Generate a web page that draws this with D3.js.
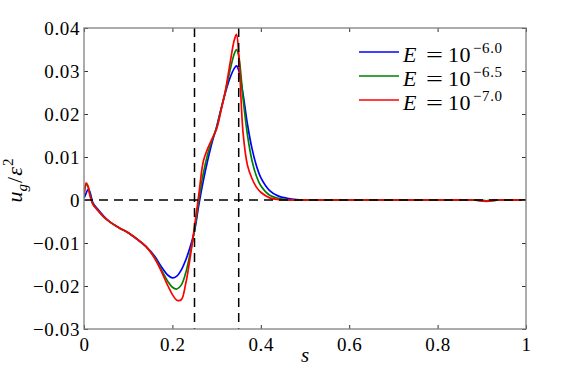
<!DOCTYPE html>
<html>
<head>
<meta charset="utf-8">
<script src="https://cdn.jsdelivr.net/npm/d3@7"></script>
<style>
  body { margin: 0; background: #fff; }
</style>
</head>
<body>
<div id="chart"></div>
<script>
// sample positions along s (shared by all three runs)
const sValues = [0, 0.005, 0.009, 0.013, 0.02, 0.03, 0.045, 0.06, 0.08, 0.1, 0.12, 0.14, 0.16, 0.175, 0.19, 0.2, 0.21, 0.22, 0.23, 0.24,
                 0.25, 0.26, 0.27, 0.28, 0.29, 0.3, 0.31, 0.32, 0.33, 0.34, 0.345, 0.35, 0.36, 0.37, 0.38, 0.39, 0.4, 0.42, 0.44, 0.46,
                 0.48, 0.5, 0.6, 0.7, 0.8, 0.88, 0.91, 0.94, 1.0];

const uBlue  = [0.0004, 0.0016, 0.0024, 0.0020, -0.0006, -0.0020, -0.0038, -0.0052, -0.0065, -0.0076, -0.0091, -0.0108, -0.0131, -0.0155, -0.0175, -0.0181, -0.0177, -0.0163, -0.0140, -0.0110,
                -0.0072, -0.0010, 0.0045, 0.0093, 0.0135, 0.0170, 0.0212, 0.0250, 0.0283, 0.0306, 0.0312, 0.0302, 0.0245, 0.0175, 0.0120, 0.0080, 0.0052, 0.0022, 0.0009, 0.0004,
                0.0001, 0, 0, 0, 0, 0, -0.0002, 0, 0];
const uGreen = [0.0008, 0.0036, 0.0031, 0.0015, -0.0009, -0.0022, -0.0040, -0.0052, -0.0065, -0.0076, -0.0091, -0.0108, -0.0134, -0.0162, -0.0190, -0.0203, -0.0207, -0.0198, -0.0170, -0.0125,
                -0.0070, 0.0002, 0.0062, 0.0107, 0.0140, 0.0168, 0.0210, 0.0253, 0.0300, 0.0340, 0.0350, 0.0335, 0.0235, 0.0150, 0.0092, 0.0056, 0.0033, 0.0011, 0.0004, 0.0001,
                0, 0, 0, 0, 0, 0, -0.0002, 0, 0];
const uRed   = [0.0012, 0.0040, 0.0033, 0.0012, -0.0010, -0.0023, -0.0040, -0.0052, -0.0065, -0.0076, -0.0091, -0.0108, -0.0136, -0.0166, -0.0200, -0.0220, -0.0233, -0.0232, -0.0195, -0.0135,
                -0.0062, 0.0015, 0.0090, 0.0120, 0.0143, 0.0165, 0.0208, 0.0255, 0.0315, 0.0372, 0.0385, 0.0340, 0.0155, 0.0080, 0.0050, 0.0030, 0.0018, 0.0005, 0.0001, 0,
                0, 0, 0, 0, 0, 0, -0.0003, 0, 0];

const seriesNames  = ['6.0', '6.5', '7.0'];
const seriesColors = ['#0000ff', '#008000', '#ff0000'];
const xTicks = [0, 0.2, 0.4, 0.6, 0.8, 1];
const yTicks = [-0.03, -0.02, -0.01, 0, 0.01, 0.02, 0.03, 0.04];
const dashedS = [0.25, 0.35];

const width = 581, height = 370;
const pLeft = 84, pRight = 526, pTop = 28, pBottom = 329;
const serif = '"Liberation Serif", "Times New Roman", serif';

const svg = d3.select('#chart').append('svg')
    .attr('width', width)
    .attr('height', height)
    .attr('font-family', serif);

const x = d3.scaleLinear().domain([0, 1]).range([pLeft, pRight]);
const y = d3.scaleLinear().domain([-0.03, 0.04]).range([pBottom, pTop]);

svg.append('clipPath').attr('id', 'plot')
  .append('rect')
    .attr('x', pLeft).attr('y', pTop)
    .attr('width', pRight - pLeft).attr('height', pBottom - pTop);

// curves
const series = [uBlue, uGreen, uRed].map((vals, i) => ({
    color: seriesColors[i],
    points: sValues.map((s, j) => [s, vals[j]])
}));

const line = d3.line()
    .x(d => x(d[0]))
    .y(d => y(d[1]))
    .curve(d3.curveCatmullRom.alpha(0.5));

svg.append('g').attr('clip-path', 'url(#plot)')
  .selectAll('path')
  .data(series)
  .enter()
  .append('path')
    .attr('d', d => line(d.points))
    .attr('fill', 'none')
    .attr('stroke', d => d.color)
    .attr('stroke-width', 1.7);

// dashed reference lines on top
const dash = svg.append('g')
    .attr('stroke', '#000')
    .attr('stroke-width', 1.5)
    .attr('stroke-dasharray', '9,6');

dash.append('line')
    .attr('x1', x(0)).attr('x2', x(1))
    .attr('y1', y(0)).attr('y2', y(0));

dash.selectAll('.v')
  .data(dashedS)
  .enter()
  .append('line')
    .attr('x1', d => x(d)).attr('x2', d => x(d))
    .attr('y1', pTop).attr('y2', pBottom);

// axes, ticks pointing inward
const fmtY = d => d === 0 ? '0' : d3.format('.2f')(d);
const fmtX = d => d3.format('')(d);

const xAxis = d3.axisBottom(x).tickValues(xTicks).tickFormat(fmtX).tickSize(-4).tickPadding(9);
const yAxis = d3.axisLeft(y).tickValues(yTicks).tickFormat(fmtY).tickSize(-4).tickPadding(4);

svg.append('g').attr('class', 'axis')
    .attr('transform', 'translate(0,' + pBottom + ')')
    .call(xAxis);
svg.append('g').attr('class', 'axis')
    .attr('transform', 'translate(' + pLeft + ',0)')
    .call(yAxis);
svg.append('g').attr('class', 'axis')
    .attr('transform', 'translate(0,' + pTop + ')')
    .call(d3.axisTop(x).tickValues(xTicks).tickFormat('').tickSize(-4));
svg.append('g').attr('class', 'axis')
    .attr('transform', 'translate(' + pRight + ',0)')
    .call(d3.axisRight(y).tickValues(yTicks).tickFormat('').tickSize(-4));

svg.selectAll('.axis').attr('font-family', serif).attr('font-size', 19);
svg.selectAll('.axis .domain').remove();
svg.selectAll('.axis line').attr('stroke', '#333').attr('stroke-width', 1);
svg.selectAll('.axis text').attr('letter-spacing', 0.6).attr('fill', '#000');

svg.append('rect')
    .attr('x', pLeft).attr('y', pTop)
    .attr('width', pRight - pLeft).attr('height', pBottom - pTop)
    .attr('fill', 'none')
    .attr('stroke', '#808080')
    .attr('stroke-width', 1.3);

// axis labels
svg.append('text')
    .attr('x', (pLeft + pRight) / 2)
    .attr('y', 362)
    .attr('text-anchor', 'middle')
    .attr('font-size', 21)
    .attr('font-style', 'italic')
    .text('s');

const yl = svg.append('text')
    .attr('transform', 'translate(22,' + ((pTop + pBottom) / 2 + 2) + ') rotate(-90)')
    .attr('text-anchor', 'middle')
    .attr('font-size', 22);
yl.append('tspan').attr('font-style', 'italic').text('u');
yl.append('tspan').attr('font-style', 'italic').attr('font-size', 15).attr('dy', 5).text('g');
yl.append('tspan').attr('dy', -5).attr('dx', 1).text('/');
yl.append('tspan').attr('font-style', 'italic').attr('dx', 1).text('ε');
yl.append('tspan').attr('font-size', 15).attr('dy', -9).attr('dx', 1).text('2');

// legend
const legend = svg.append('g');
seriesNames.forEach((name, i) => {
    const ly = 52 + i * 24;
    legend.append('line')
        .attr('x1', 359).attr('x2', 399)
        .attr('y1', ly).attr('y2', ly)
        .attr('stroke', seriesColors[i])
        .attr('stroke-width', 1.7);
    legend.append('text')
        .attr('x', 403).attr('y', ly + 10)
        .attr('font-size', 22).attr('font-style', 'italic')
        .text('E');
    legend.append('text')
        .attr('x', 426).attr('y', ly + 10)
        .attr('font-size', 22)
        .attr('textLength', 17).attr('lengthAdjust', 'spacingAndGlyphs')
        .text('=');
    legend.append('text')
        .attr('x', 448).attr('y', ly + 10)
        .attr('font-size', 22).attr('letter-spacing', 0.5)
        .text('10');
    legend.append('text')
        .attr('x', 473).attr('y', ly + 1)
        .attr('font-size', 15).attr('letter-spacing', 0.6)
        .text('\u2212' + name);
});
</script>
</body>
</html>
